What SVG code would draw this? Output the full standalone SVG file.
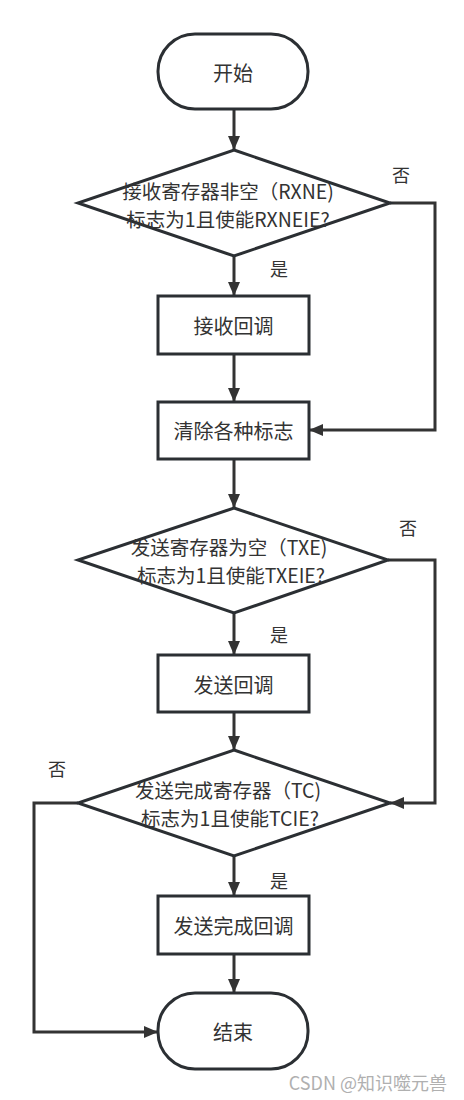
<svg xmlns="http://www.w3.org/2000/svg" width="464" height="1100" viewBox="0 0 464 1100">
<style>
.shape{fill:#fff;stroke:#2b2f33;stroke-width:3}
.line{fill:none;stroke:#333;stroke-width:3}
text{font-family:"Noto Sans CJK SC","Noto Sans",sans-serif;font-size:20px;fill:#333;text-anchor:middle;dominant-baseline:central}
.dt{font-size:19.5px}
.lbl{font-size:18px}
.wm{fill:#b0b0b0;font-size:18px;text-anchor:end}
</style>
<defs>
<marker id="arr" viewBox="0 0 14 12" refX="14" refY="6" markerWidth="14" markerHeight="12" markerUnits="userSpaceOnUse" orient="auto">
<path d="M0,0 L14,6 L0,12 Z" fill="#333"/>
</marker>
</defs>
<rect width="464" height="1100" fill="#fff"/>
<g id="connectors">
<line class="line" x1="234" y1="109" x2="234" y2="150" marker-end="url(#arr)"/>
<line class="line" x1="234" y1="256" x2="234" y2="296" marker-end="url(#arr)"/>
<line class="line" x1="234" y1="354" x2="234" y2="402" marker-end="url(#arr)"/>
<polyline class="line" points="390,203 435,203 435,430 309,430" marker-end="url(#arr)"/>
<line class="line" x1="234" y1="459" x2="234" y2="508" marker-end="url(#arr)"/>
<line class="line" x1="234" y1="613" x2="234" y2="655" marker-end="url(#arr)"/>
<line class="line" x1="234" y1="712" x2="234" y2="750" marker-end="url(#arr)"/>
<polyline class="line" points="388,560 435,560 435,803 390,803" marker-end="url(#arr)"/>
<line class="line" x1="234" y1="856" x2="234" y2="896" marker-end="url(#arr)"/>
<line class="line" x1="234" y1="954" x2="234" y2="993" marker-end="url(#arr)"/>
<polyline class="line" points="78,803 34,803 34,1032 158,1032" marker-end="url(#arr)"/>
<text class="lbl" x="401" y="174">否</text>
<text class="lbl" x="279" y="268">是</text>
<text class="lbl" x="408" y="527">否</text>
<text class="lbl" x="279" y="634">是</text>
<text class="lbl" x="57" y="768">否</text>
<text class="lbl" x="279" y="880">是</text>
</g>
<g id="start">
<rect class="shape" x="158" y="34" width="150" height="75" rx="37" ry="37"/>
<text x="233" y="72">开始</text>
</g>
<g id="dec1">
<polygon class="shape" points="234,150 390,203 234,256 78,203"/>
<text class="dt" x="228" y="190">接收寄存器非空（RXNE)</text>
<text class="dt" x="228" y="218.5">标志为1且使能RXNEIE?</text>
</g>
<g id="rxcb">
<rect class="shape" x="158" y="296" width="151" height="58"/>
<text x="233.5" y="325">接收回调</text>
</g>
<g id="clear">
<rect class="shape" x="158" y="402" width="151" height="57"/>
<text x="233.5" y="430">清除各种标志</text>
</g>
<g id="dec2">
<polygon class="shape" points="234,508 388,560 234,613 78,560"/>
<text class="dt" x="229" y="546">发送寄存器为空（TXE)</text>
<text class="dt" x="231" y="574.5">标志为1且使能TXEIE?</text>
</g>
<g id="txcb">
<rect class="shape" x="158" y="655" width="151" height="57"/>
<text x="233.5" y="684">发送回调</text>
</g>
<g id="dec3">
<polygon class="shape" points="234,750 390,803 234,856 78,803"/>
<text class="dt" x="228" y="789">发送完成寄存器（TC)</text>
<text class="dt" x="230" y="817.5">标志为1且使能TCIE?</text>
</g>
<g id="tccb">
<rect class="shape" x="158" y="896" width="151" height="58"/>
<text x="233.5" y="925">发送完成回调</text>
</g>
<g id="end">
<rect class="shape" x="158" y="993" width="150" height="76" rx="37" ry="37"/>
<text x="233" y="1031">结束</text>
</g>
<text class="wm" x="447" y="1082">CSDN @知识噬元兽</text>
</svg>
